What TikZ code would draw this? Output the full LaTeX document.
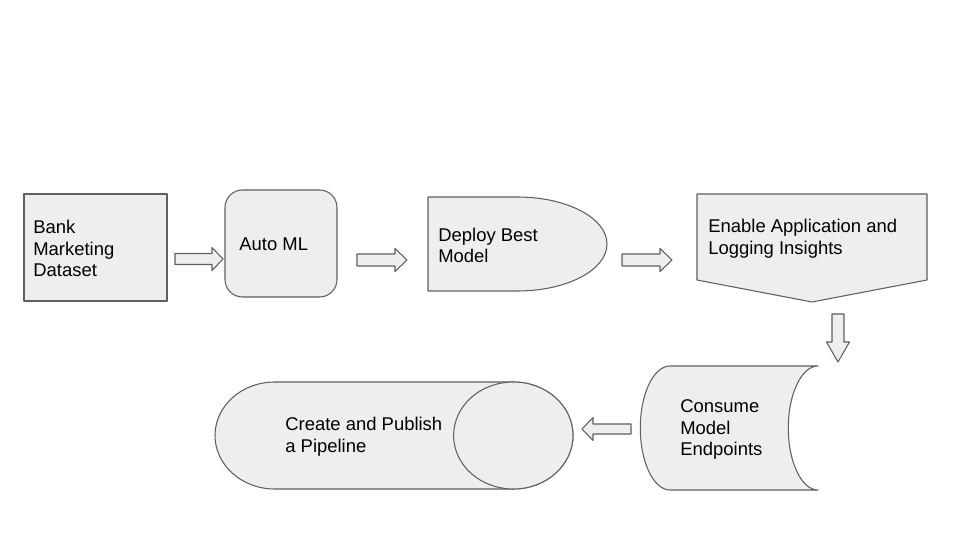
\documentclass[tikz,border=0pt]{standalone}
\usepackage{fontspec}
\setmainfont{Liberation Sans}
\definecolor{shapefill}{HTML}{EEEEEE}
\definecolor{shapeedge}{HTML}{5F5F5F}
\tikzset{
	shapeline/.style={draw=shapeedge, fill=shapefill, line width=0.6pt, line join=round},
	steptext/.style={align=left, inner sep=0pt, anchor=west, font=\fontsize{10.5}{12.4}\selectfont},
	pics/blockarrow/.style n args={3}{code={
		\draw[shapeline] (0,-#3) -- (#1-#2,-#3) -- (#1-#2,-11.5) -- (#1,0) -- (#1-#2,11.5) -- (#1-#2,#3) -- (0,#3) -- cycle;
	}}
}
\begin{document}
\begin{tikzpicture}[x=0.02cm, y=-0.02cm]
		\useasboundingbox (0,0) rectangle (960,540);
		\draw[shapeline] (24,194) rectangle (167,301);
		\draw[shapeline, rounded corners=0.35cm] (225,190) rectangle (337,297);
		\draw[shapeline] (428,197) -- (517.5,197) arc[start angle=-90, end angle=90, x radius=89.5, y radius=47] -- (428,291) -- cycle;
		\draw[shapeline] (697,194) -- (927,194) -- (927,280) -- (812,302) -- (697,280) -- cycle;
		\draw[shapeline] (670,366) -- (818,366) arc[start angle=-90, end angle=-270, x radius=29.7, y radius=62] -- (670,490) arc[start angle=90, end angle=270, x radius=29.7, y radius=62] -- cycle;
		\draw[shapeline] (274.7,382) -- (513.3,382) arc[start angle=-90, end angle=90, x radius=59.7, y radius=53.5] -- (274.7,489) arc[start angle=90, end angle=270, x radius=59.7, y radius=53.5] -- cycle;
		\draw[shapeline] (513.3,435.5) ellipse[x radius=59.7, y radius=53.5];
		\node[steptext] (bank) at (33,248.5) {Bank\\Marketing\\Dataset};
		\node[steptext] (automl) at (239,244.5) {Auto ML};
		\node[steptext] (deploy) at (438,245.5) {Deploy Best\\Model};
		\node[steptext] (insights) at (708,238.5) {Enable Application and\\Logging Insights};
		\node[steptext] (consume) at (680,429.5) {Consume\\Model\\Endpoints};
		\node[steptext] (pipeline) at (285,436.5) {Create and Publish\\a Pipeline};
		\pic at (175,259) {blockarrow={48}{11}{5.5}};
		\pic at (357,260) {blockarrow={50}{12}{6}};
		\pic at (622,260) {blockarrow={50}{12}{6}};
		\pic[rotate=-90] at (838,314) {blockarrow={48}{20}{6}};
		\pic[rotate=180] at (631,429) {blockarrow={49}{11}{5}};
	\end{tikzpicture}
\end{document}
